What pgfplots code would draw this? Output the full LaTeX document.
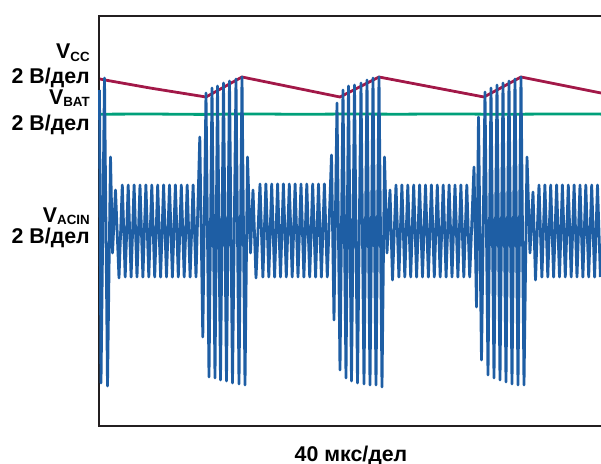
\documentclass[border=0pt]{standalone}
\usepackage{pgfplots}
\pgfplotsset{compat=1.18}
\usepackage{fontspec}
\setmainfont{Liberation Sans}
\definecolor{sigblue}{RGB}{30,94,164}
\definecolor{sigred}{RGB}{162,24,72}
\definecolor{siggreen}{RGB}{0,160,122}
\definecolor{frame}{RGB}{35,31,32}
\newcommand{\lbl}{\fontsize{16}{16}\selectfont\bfseries}
\newcommand{\sub}[1]{\raisebox{-2pt}{\fontsize{10}{10}\selectfont\bfseries #1}}
\begin{document}
\begin{tikzpicture}
\begin{axis}[
  x=0.75pt, y=0.75pt, y dir=reverse,
  xmin=98.8, xmax=604, ymin=16, ymax=426,
  ticks=none, clip=false,
  axis line style={line width=1.9pt, color=frame},
]
\coordinate (A) at (axis cs:0,0);
\coordinate (B) at (axis cs:601,464);
% V_BAT
\addplot[siggreen, line width=2.1pt] coordinates {
(99,114.2)(150,114.0)(200,114.4)(250,113.9)(300,114.3)(350,114.0)(400,114.2)(450,113.9)(500,114.3)(550,114.0)(601,114.1)
};
% V_CC
\addplot[sigred, line width=2.1pt, line join=round] coordinates {
(100,79)(105,80)(150,88)(206,97)(242,77)(340,97)(379,77)(484,97)(521,77)(601,93)
};
% V_ACIN
\addplot[sigblue, line width=2.1pt, line join=round] coordinates {
(99.5,90)(101,383)(104.5,78)(107.5,386)(110.5,157)(112.5,253)(115.5,190)(119,278)
(122.3,185)(125.2,277)(128.2,185)(131.1,277)(134.1,185)(137.0,277)(140.0,185)(142.9,277)
(145.9,185)(148.8,277)(151.8,185)(154.7,277)(157.7,185)(160.6,277)(163.6,185)(166.5,277)
(169.5,185)(172.4,277)(175.4,185)(178.3,277)(181.3,185)(184.2,277)(187.2,185)(190.1,277)
(193.1,185)(196.0,277)
(199.8,137)(202.8,337)(206,93)(209,377)(212,88)(215,378)(217.5,86)(220.5,380)(223.5,83)(226.5,381)
(229.5,81)(232.5,383)(236,79)(239,384)(242,77)(245,385)(247.5,157)(250.5,253)(253,190)(256,278)
(260,184)(262.9,277)(265.9,184)(268.8,277)(271.7,184)(274.6,277)(277.6,184)(280.5,277)
(283.4,184)(286.3,277)(289.3,184)(292.2,277)(295.1,184)(298,277)(301,184)(303.9,277)
(306.8,184)(309.7,277)(312.7,184)(315.6,277)(318.5,184)(321.4,277)(324.4,184)(327.3,277)
(331.5,155)(334,320)(337,103)(340,370)(343,90)(346,378)(348.5,86)(351.5,381)(354.5,85)(357.5,383)
(361,83)(364,384)(367,80)(370,385)(373,78)(376,385)(379,77)(382,387)(384.5,157)(387,253)(390,190)(392.5,280)
(396,185)(398.9,277)(401.9,185)(404.8,277)(407.8,185)(410.7,277)(413.7,185)(416.6,277)
(419.6,185)(422.5,277)(425.5,185)(428.4,277)(431.4,185)(434.3,277)(437.3,185)(440.2,277)
(443.2,185)(446.1,277)(449.1,185)(452,277)(455,185)(457.9,277)(460.9,185)(463.8,277)
(466.8,185)(469.7,277)
(474,167)(476.5,307)(478.5,117)(481.5,360)(485,92)(488,375)(491,88)(494,378)(497,85)(500,380)
(503,83)(506,382)(509,81)(512,384)(515,79)(518,385)(521,77)(524,385)(527,157)(530,253)(533,192)(535.5,280)
(539,185)(541.9,277)(544.9,185)(547.8,277)(550.7,185)(553.6,277)(556.6,185)(559.5,277)
(562.4,185)(565.3,277)(568.3,185)(571.2,277)(574.1,185)(577,277)(580,185)(582.9,277)
(585.8,185)(588.7,277)(591.7,185)(594.6,277)(597.5,185)(600.4,277)
};
\node[anchor=base east, inner sep=0pt] at (axis cs:90,58.5) {\lbl V\sub{CC}};
\node[anchor=base east, inner sep=0pt] at (axis cs:90,83) {\lbl 2 В/дел};
\node[anchor=base east, inner sep=0pt] at (axis cs:90,104) {\lbl V\sub{BAT}};
\node[anchor=base east, inner sep=0pt] at (axis cs:90,130) {\lbl 2 В/дел};
\node[anchor=base east, inner sep=0pt] at (axis cs:90,222) {\lbl V\sub{ACIN}};
\node[anchor=base east, inner sep=0pt] at (axis cs:90,243) {\lbl 2 В/дел};
\node[anchor=base, inner sep=0pt] at (axis cs:351,461) {\lbl 40 мкс/дел};
\end{axis}
\pgfresetboundingbox
\path (A) rectangle (B);
\end{tikzpicture}
\end{document}
